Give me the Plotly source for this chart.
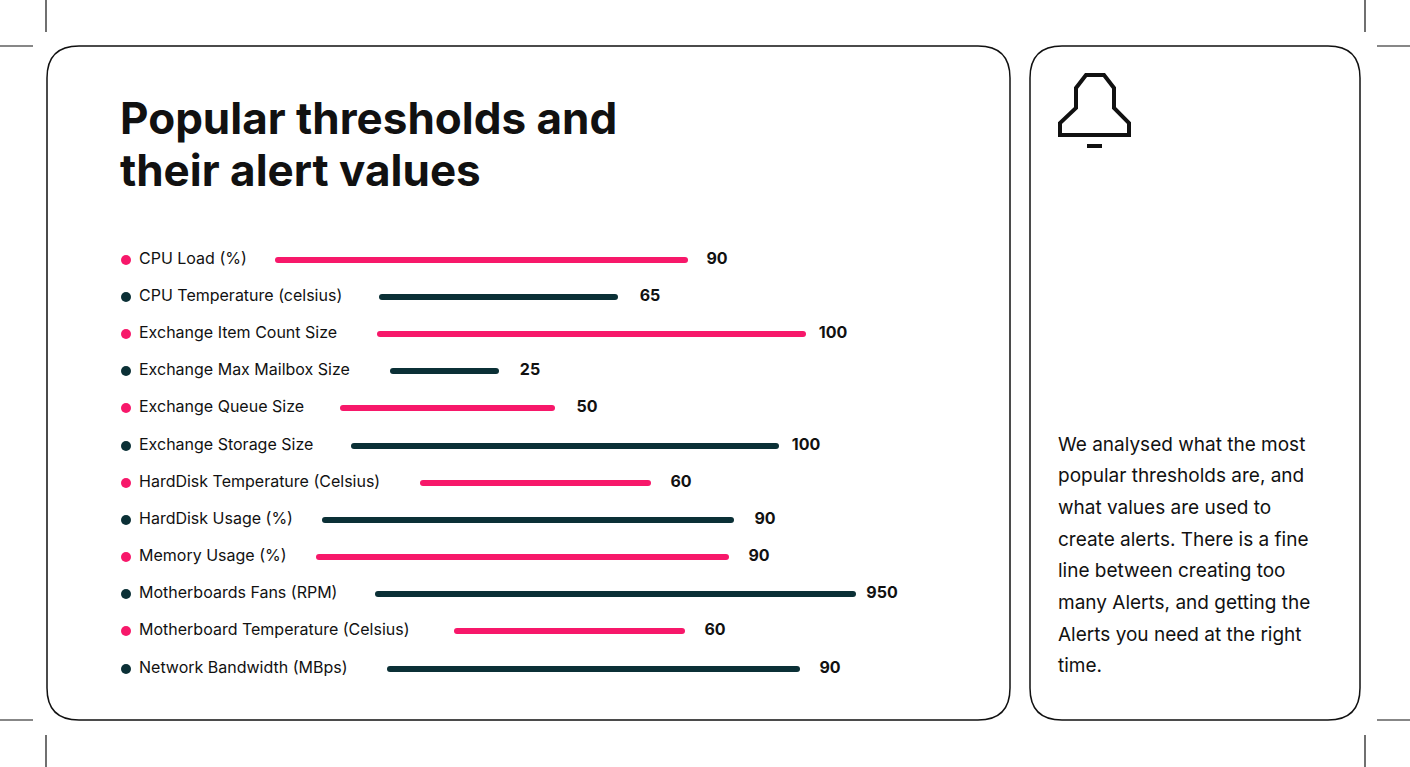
import plotly.graph_objects as go

categories = ["CPU Load (%)", "CPU Temperature (celsius)", "Exchange Item Count Size",
              "Exchange Max Mailbox Size", "Exchange Queue Size", "Exchange Storage Size",
              "HardDisk Temperature (Celsius)", "HardDisk Usage (%)", "Memory Usage (%)",
              "Motherboards Fans (RPM)", "Motherboard Temperature (Celsius)", "Network Bandwidth (MBps)"]
values = [90, 65, 100, 25, 50, 100, 60, 90, 90, 950, 60, 90]
# bar extents as drawn in the infographic (page units)
bar_start = [278, 382, 380, 393, 343, 354, 423, 325, 319, 378, 457, 390]
bar_end = [685, 615, 803, 496, 552, 776, 648, 731, 726, 853, 682, 797]
label_x = [717, 650, 833, 530, 587, 806, 681, 765, 759, 882, 715, 830]
row_y = [260, 297, 334, 371, 408, 446, 483, 520, 557, 594, 631, 669]
title_lines = ["Popular thresholds and", "their alert values"]
body_lines = ["We analysed what the most", "popular thresholds are, and", "what values are used to",
              "create alerts. There is a fine", "line between creating too", "many Alerts, and getting the",
              "Alerts you need at the right", "time."]

PINK = "#F7186A"
DARK = "#0B3036"
INK = "#111111"
colors = [PINK if i % 2 == 0 else DARK for i in range(len(categories))]

fig = go.Figure()
for i, c in enumerate(categories):
    fig.add_trace(go.Scatter(x=[bar_start[i], bar_end[i]], y=[row_y[i], row_y[i]], mode="lines+markers",
                             line=dict(color=colors[i], width=6), marker=dict(color=colors[i], size=6),
                             hoverinfo="skip", showlegend=False))
fig.add_trace(go.Scatter(x=[126] * len(categories), y=row_y, mode="markers",
                         marker=dict(color=colors, size=10), showlegend=False, hoverinfo="skip"))
fig.add_trace(go.Scatter(x=[139] * len(categories), y=row_y, mode="text", text=categories,
                         textposition="middle right", textfont=dict(size=16, color=INK, family="Inter"),
                         showlegend=False, hoverinfo="skip"))
fig.add_trace(go.Scatter(x=label_x, y=row_y, mode="text", text=[str(v) for v in values],
                         textposition="middle center",
                         textfont=dict(size=16, color=INK, family="Inter", weight="bold"),
                         showlegend=False, hoverinfo="skip"))

def rrect(x0, y0, x1, y1, r):
    return (f"M{x0+r},{y0} L{x1-r},{y0} Q{x1},{y0} {x1},{y0+r} L{x1},{y1-r} Q{x1},{y1} {x1-r},{y1} "
            f"L{x0+r},{y1} Q{x0},{y1} {x0},{y1-r} L{x0},{y0+r} Q{x0},{y0} {x0+r},{y0} Z")

shapes = [
    dict(type="path", path=rrect(47, 46, 1010, 720, 32), line=dict(color=INK, width=1.5), layer="below"),
    dict(type="path", path=rrect(1030, 46, 1360, 720, 32), line=dict(color=INK, width=1.5), layer="below"),
    dict(type="path", path="M1076,108 L1076,88 L1086,75 L1104,75 L1114,88 L1114,108 L1129,123 L1129,135 L1060,135 L1060,123 Z",
         line=dict(color=INK, width=4)),
    dict(type="line", x0=1087, x1=1102, y0=146, y1=146, line=dict(color=INK, width=4)),
]
for (x0, y0, x1, y1) in [(46, 0, 46, 32), (0, 46, 33, 46), (1365, 0, 1365, 32), (1377, 46, 1410, 46),
                         (46, 735, 46, 767), (0, 720, 33, 720), (1365, 735, 1365, 767), (1377, 720, 1410, 720)]:
    shapes.append(dict(type="line", x0=x0, y0=y0, x1=x1, y1=y1, line=dict(color=INK, width=1.2)))

annotations = []
for i, t in enumerate(title_lines):
    annotations.append(dict(x=118, y=118 + 52 * i, text=f"<b>{t}</b>", showarrow=False,
                            xanchor="left", yanchor="middle", font=dict(size=44, color=INK, family="Inter")))
for i, t in enumerate(body_lines):
    annotations.append(dict(x=1056, y=444 + 31.7 * i, text=t, showarrow=False,
                            xanchor="left", yanchor="middle", font=dict(size=19, color=INK, family="Inter")))

fig.update_layout(width=1410, height=767, margin=dict(l=0, r=0, t=0, b=0),
                  paper_bgcolor="white", plot_bgcolor="white", shapes=shapes, annotations=annotations,
                  xaxis=dict(range=[0, 1410], visible=False, fixedrange=True),
                  yaxis=dict(range=[767, 0], visible=False, fixedrange=True))
fig.write_html("out.html", config={"displayModeBar": False})

with open("out.html", encoding="utf-8") as f:
    html = f.read()
html = html.replace("<body>", '<body style="margin:0;overflow:hidden">', 1)
with open("out.html", "w", encoding="utf-8") as f:
    f.write(html)
